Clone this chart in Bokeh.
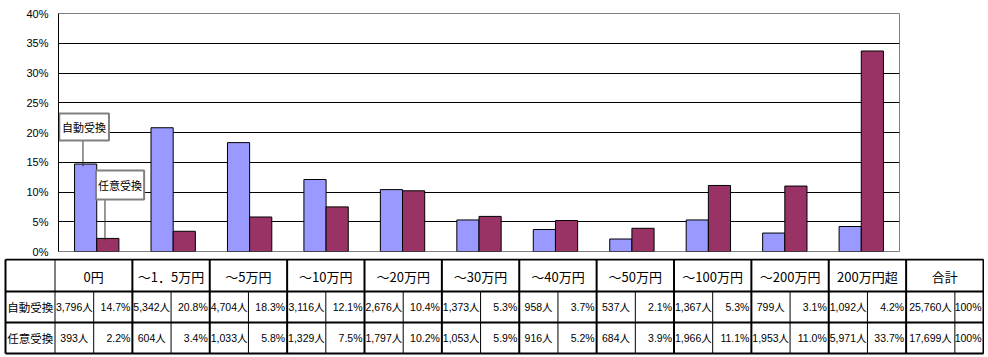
from bokeh.plotting import figure
from bokeh.models import FactorRange, Range1d, FixedTicker, ColumnDataSource
from bokeh.transform import dodge
from bokeh.embed import file_html
from bokeh.resources import INLINE
from bokeh.core.properties import value

# ---------------- data ----------------
categories = ["0円", "～1．5万円", "～5万円", "～10万円", "～20万円", "～30万円",
              "～40万円", "～50万円", "～100万円", "～200万円", "200万円超"]
series_names = ["自動受換", "任意受換"]
auto_pct = [14.7, 20.8, 18.3, 12.1, 10.4, 5.3, 3.7, 2.1, 5.3, 3.1, 4.2]
manual_pct = [2.2, 3.4, 5.8, 7.5, 10.2, 5.9, 5.2, 3.9, 11.1, 11.0, 33.7]
auto_count = ["3,796人", "5,342人", "4,704人", "3,116人", "2,676人", "1,373人",
              "958人", "537人", "1,367人", "799人", "1,092人"]
manual_count = ["393人", "604人", "1,033人", "1,329人", "1,797人", "1,053人",
                "916人", "684人", "1,966人", "1,953人", "5,971人"]
total_label = "合計"
total_count = ["25,760人", "17,699人"]
total_pct = ["100%", "100%"]
y_ticks = [0, 5, 10, 15, 20, 25, 30, 35, 40]

BLUE = "#9999FF"
RED = "#993366"
CJK = "Noto Sans CJK JP"
NUM = "'Liberation Sans Narrow', 'Liberation Sans', 'Noto Sans CJK JP', sans-serif"

W = 984

# ---------------- chart ----------------
src = ColumnDataSource(dict(cat=categories, auto=auto_pct, manual=manual_pct))
p = figure(x_range=FactorRange(*categories, range_padding=0), y_range=Range1d(0, 40),
           width=W, height=258, output_backend="svg", toolbar_location=None,
           min_border_left=58, min_border_right=85, min_border_top=13, min_border_bottom=7)
p.vbar(x=dodge("cat", -0.145, range=p.x_range), top="auto", width=0.29, source=src,
       fill_color=BLUE, line_color="black", line_width=1)
p.vbar(x=dodge("cat", 0.145, range=p.x_range), top="manual", width=0.29, source=src,
       fill_color=RED, line_color="black", line_width=1)

p.xaxis.visible = False
p.xgrid.visible = False
p.ygrid.ticker = FixedTicker(ticks=y_ticks[1:-1])
p.ygrid.grid_line_color = "black"
p.ygrid.grid_line_width = 1
p.yaxis.ticker = FixedTicker(ticks=y_ticks)
p.yaxis.major_label_overrides = {t: f"{t}%" for t in y_ticks}
p.yaxis.major_tick_out = 0
p.yaxis.major_tick_in = 0
p.yaxis.minor_tick_out = 0
p.yaxis.minor_tick_in = 0
p.yaxis.axis_line_color = "black"
p.yaxis.major_label_standoff = 10
p.yaxis.major_label_text_font = NUM
p.yaxis.major_label_text_font_size = "11px"
p.yaxis.major_label_text_color = "black"
p.outline_line_color = "#808080"
p.outline_line_width = 1

# callouts for series names (anchored to the first category's bars)
a0, m0 = auto_pct[0], manual_pct[0]
box_left = [0.01, 0.49]
box_right = [0.66, 1.12]
box_bottom = [a0 + 3.96, m0 + 6.54]
box_top = [a0 + 8.5, m0 + 11.4]
lead_x = [0.32, 0.608]
lead_top = box_bottom
lead_bot = [a0 - 0.4, m0 - 0.35]
p.segment(x0=lead_x, x1=lead_x, y0=lead_top, y1=lead_bot, line_color="#333333", line_width=1)
p.quad(left=box_left, right=box_right, bottom=box_bottom, top=box_top,
       fill_color="white", line_color="#808080", line_width=2)
p.text(x=[(l + r) / 2 for l, r in zip(box_left, box_right)],
       y=[(b + t) / 2 for b, t in zip(box_bottom, box_top)],
       text=series_names, text_align="center", text_baseline="middle",
       text_font=value(CJK), text_font_size="11px", text_color="black")

# ---------------- table ----------------
t = figure(x_range=Range1d(0, W), y_range=Range1d(99, 0), width=W, height=99,
           output_backend="svg", toolbar_location=None, x_axis_type=None, y_axis_type=None,
           min_border=0, min_border_left=0, min_border_right=0, min_border_top=0,
           min_border_bottom=0, outline_line_color=None)
t.grid.visible = False

cols = categories + [total_label]
n = len(cols)
x_left, x_lab, x_right = 5, 54.5, 983
cw = (x_right - x_lab) / n
rows_y = [1, 33, 64, 95]
cat_left = [x_lab + i * cw for i in range(n)]
split = [cl + cw * 0.5 for cl in cat_left[:-1]] + [cat_left[-1] + cw * 0.63]

# horizontal lines (thick)
t.segment(x0=[x_left] * 4, x1=[x_right] * 4, y0=rows_y, y1=rows_y, line_color="black", line_width=2)
# thick verticals
thick_x = [x_left] + cat_left[1:] + [x_right]
t.segment(x0=thick_x, x1=thick_x, y0=[rows_y[0]] * len(thick_x), y1=[rows_y[-1]] * len(thick_x),
          line_color="black", line_width=2)
# thin verticals
t.segment(x0=[x_lab], x1=[x_lab], y0=[rows_y[0]], y1=[rows_y[-1]], line_color="black", line_width=1)
t.segment(x0=split, x1=split, y0=[rows_y[1]] * n, y1=[rows_y[-1]] * n, line_color="black", line_width=1)

ymid = [(rows_y[i] + rows_y[i + 1]) / 2 for i in range(3)]
# header
t.text(x=[cl + cw / 2 for cl in cat_left], y=[ymid[0] + 1] * n, text=cols,
       text_align="center", text_baseline="middle", text_font=value(CJK),
       text_font_size="13px", text_color="black")
# row labels
t.text(x=[(x_left + x_lab) / 2] * 2, y=[ymid[1], ymid[2]], text=series_names,
       text_align="center", text_baseline="middle", text_font=value(CJK),
       text_font_size="11.5px", text_color="black")
# counts
counts_txt = auto_count + [total_count[0]] + manual_count + [total_count[1]]
counts_x = [(cl + s) / 2 for cl, s in zip(cat_left, split)] * 2
counts_y = [ymid[1]] * n + [ymid[2]] * n
t.text(x=counts_x, y=counts_y, text=counts_txt, text_align="center", text_baseline="middle",
       text_font=value(NUM), text_font_size="10.5px", text_color="black")
# percents
pct_txt = [f"{v:.1f}%" for v in auto_pct] + [total_pct[0]] + [f"{v:.1f}%" for v in manual_pct] + [total_pct[1]]
pct_x = [cl + cw - 2 for cl in cat_left] * 2
t.text(x=pct_x, y=counts_y, text=pct_txt, text_align="right", text_baseline="middle",
       text_font=value(NUM), text_font_size="10.5px", text_color="black")

open("out.html", "w").write(file_html([p, t], INLINE))
